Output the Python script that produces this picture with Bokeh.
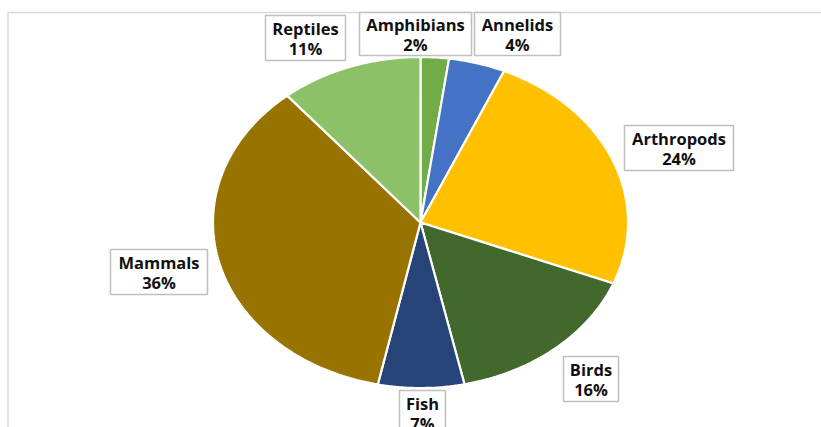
import math
from bokeh.plotting import figure
from bokeh.models import Range1d
from bokeh.core.properties import value
from bokeh.embed import file_html
from bokeh.resources import INLINE

# ---- data ----
categories = ["Amphibians", "Annelids", "Arthropods", "Birds", "Fish", "Mammals", "Reptiles"]
shares = [2.2, 4.4, 24.4, 15.6, 6.7, 35.6, 11.1]
colors = ["#70AD47", "#4472C4", "#FFC000", "#43682B", "#264478", "#997300", "#8CC168"]

# ---- layout (pixel-like coordinates) ----
W, H = 821, 427
cx, cy, rx, ry = 420, 222, 207.5, 165.5
label_boxes = {  # centre x, centre y, width, height
    "Amphibians": (415, 33.5, 112, 43),
    "Annelids": (517, 33.5, 86, 43),
    "Arthropods": (678.5, 147.5, 109, 45),
    "Birds": (590.5, 378.5, 55, 45),
    "Fish": (422, 412.5, 46, 45),
    "Mammals": (158.5, 271.5, 97, 45),
    "Reptiles": (305, 37.5, 80, 45),
}

p = figure(width=W, height=H, output_backend="svg", toolbar_location=None,
           x_range=Range1d(0, W), y_range=Range1d(H, 0), min_border=0)
p.axis.visible = False
p.grid.visible = False
p.outline_line_color = None
p.background_fill_color = "white"
p.border_fill_color = "white"

# chart area frame (cut at right and bottom)
p.segment(x0=[7.5, 7.5], y0=[12, 12], x1=[W + 5, 7.5], y1=[12, H + 5],
          line_color="#D9D9D9", line_width=1.5)

total = sum(shares)
xs, ys = [], []
cum = 0.0
for s in shares:
    a0 = cum / total * 2 * math.pi
    cum += s
    a1 = cum / total * 2 * math.pi
    n = max(4, int((a1 - a0) / (2 * math.pi) * 360))
    px, py = [cx], [cy]
    for i in range(n + 1):
        a = a0 + (a1 - a0) * i / n
        px.append(cx + rx * math.sin(a))
        py.append(cy - ry * math.cos(a))
    xs.append(px)
    ys.append(py)

p.patches(xs=xs, ys=ys, fill_color=colors, line_color="white", line_width=2.2)

bx = [label_boxes[c][0] for c in categories]
by = [label_boxes[c][1] for c in categories]
bw = [label_boxes[c][2] for c in categories]
bh = [label_boxes[c][3] for c in categories]
p.rect(x=bx, y=by, width=bw, height=bh, fill_color="white",
       line_color="#BFBFBF", line_width=1.5)

names = categories
pcts = [f"{round(s / total * 100)}%" for s in shares]
p.text(x=bx, y=[y - 9.5 for y in by], text=names, text_align="center",
       text_baseline="middle", text_font=value("Open Sans"),
       text_font_style="bold", text_font_size="16.5px", text_color="#111111")
p.text(x=bx, y=[y + 10.5 for y in by], text=pcts, text_align="center",
       text_baseline="middle", text_font=value("Open Sans"),
       text_font_style="bold", text_font_size="16.5px", text_color="#111111")

open("out.html", "w").write(file_html(p, INLINE))
